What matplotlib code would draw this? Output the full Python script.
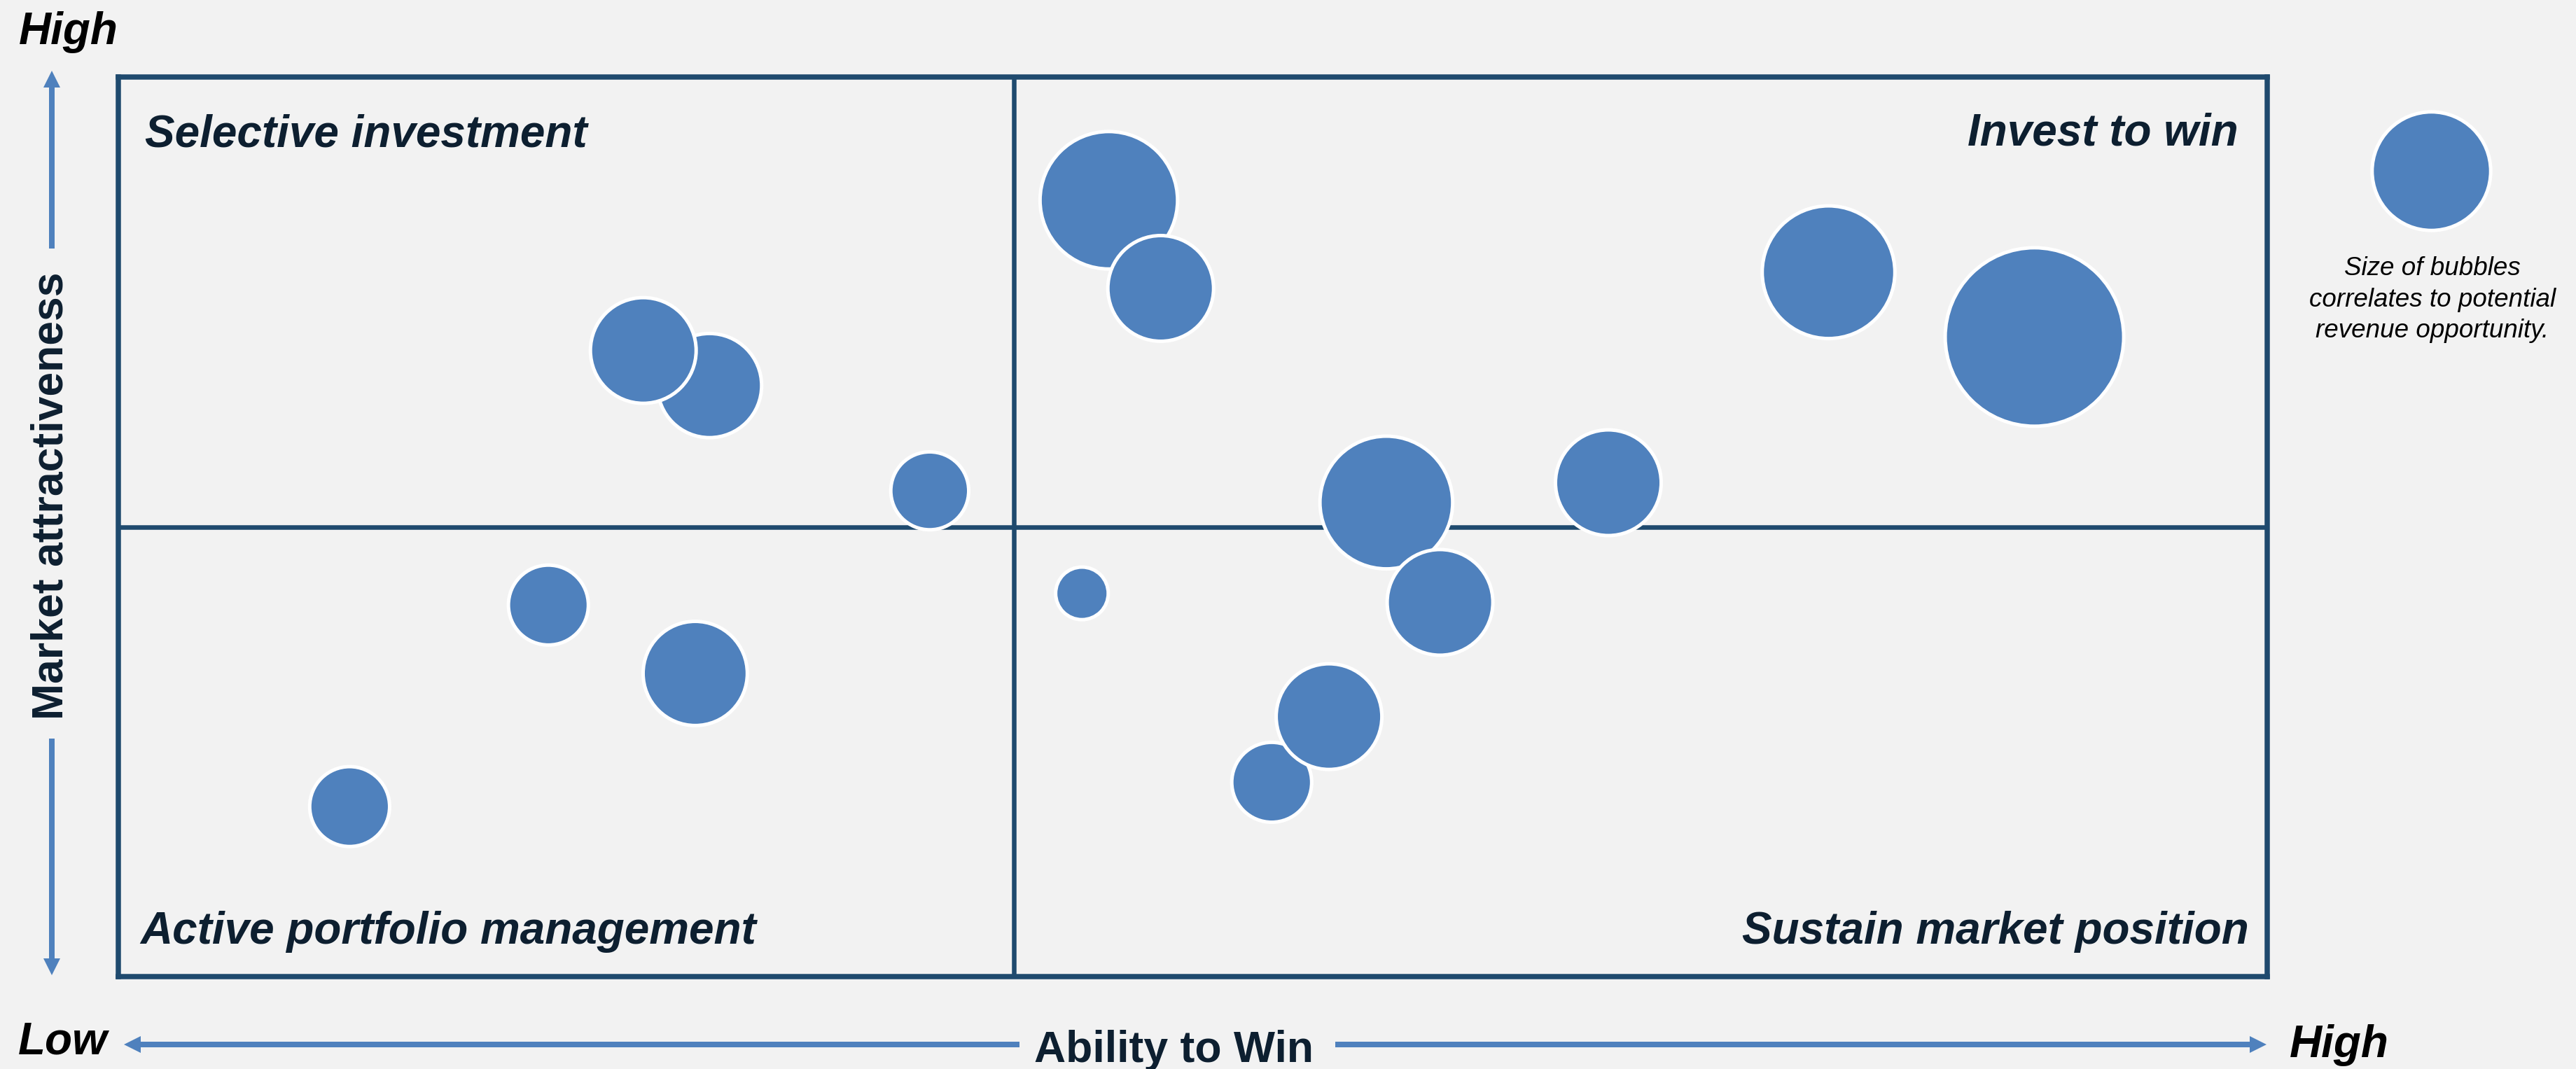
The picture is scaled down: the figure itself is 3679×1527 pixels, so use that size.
import matplotlib.pyplot as plt
import numpy as np

plt.rcParams["font.family"] = ["Liberation Sans", "DejaVu Sans"]

# ability to win (0-12, split at 5), market attractiveness (0-10, split at 5)
ability = [3.30, 2.93, 4.53, 2.40, 3.22, 1.29, 5.53, 5.82, 7.08, 7.38, 8.32, 5.38, 6.44, 6.76, 9.55, 10.70]
attractiveness = [6.57, 6.96, 5.40, 4.13, 3.37, 1.89, 8.63, 7.65, 5.27, 4.16, 5.49, 4.26, 2.16, 2.89, 7.83, 7.11]
revenue = [35, 36, 20, 21, 35, 21, 60, 36, 56, 36, 36, 9.5, 21, 36, 56, 100]
legend_revenue = 45

quadrant_labels = ["Selective investment", "Invest to win",
                   "Active portfolio management", "Sustain market position"]
legend_lines = ["Size of bubbles", "correlates to potential", "revenue opportunity."]

W, H = 3680, 1527
BG = "#F2F2F2"
BUBBLE = "#4F81BD"
FRAME = "#1F4A6E"
DARK = "#0D1F30"
EDGE_PX = 5


def bubble_size(v):
    # outer radius in px grows with sqrt(revenue); scatter s is diameter^2 in pt
    r_out = 13 * np.sqrt(np.asarray(v, dtype=float))
    return ((2 * r_out - EDGE_PX) * 0.72) ** 2


fig = plt.figure(figsize=(W / 100, H / 100), dpi=100, facecolor=BG)

# overlay in pixel units for arrows / legend
over = fig.add_axes([0, 0, 1, 1], zorder=0)
over.set_xlim(0, W)
over.set_ylim(H, 0)
over.axis("off")

left, right, top, bottom = 169.5, 3238, 110, 1395
ax = fig.add_axes([left / W, (H - bottom) / H, (right - left) / W, (bottom - top) / H], zorder=1)
ax.set_facecolor(BG)
ax.set_xlim(0, 12)
ax.set_ylim(0, 10)
ax.set_xticks([])
ax.set_yticks([])
for sp in ax.spines.values():
    sp.set_color(FRAME)
    sp.set_linewidth(5.4)
ax.axvline(5, color=FRAME, lw=4.7, zorder=2)
ax.axhline(5, color=FRAME, lw=4.7, zorder=2)

ax.scatter(ability, attractiveness, s=bubble_size(revenue), color=BUBBLE,
           edgecolor="white", linewidth=EDGE_PX * 0.72, zorder=3, clip_on=False)

qkw = dict(fontsize=46, fontweight="bold", fontstyle="italic", color=DARK, va="baseline")
fig.text(207 / W, 1 - 210 / H, quadrant_labels[0], ha="left", **qkw)
fig.text(3197 / W, 1 - 208 / H, quadrant_labels[1], ha="right", **qkw)
fig.text(200 / W, 1 - 1348 / H, quadrant_labels[2], ha="left", **qkw)
fig.text(3212 / W, 1 - 1348 / H, quadrant_labels[3], ha="right", **qkw)

# axis arrows
akw = dict(width=8, head_width=24, head_length=24, length_includes_head=True,
           color=BUBBLE, lw=0)
over.arrow(74, 355, 0, 101 - 355, **akw)
over.arrow(74, 1055, 0, 1393 - 1055, **akw)
over.arrow(1456, 1492, 177 - 1456, 0, **akw)
over.arrow(1907, 1492, 3237 - 1907, 0, **akw)

fig.text(73 / W, 1 - 708 / H, "Market attractiveness", rotation=90, ha="center",
         va="center", fontsize=45, fontweight="bold", color=DARK)
fig.text(1677 / W, 1 - 1517 / H, "Ability to Win", ha="center", va="baseline",
         fontsize=45, fontweight="bold", color=DARK)

hkw = dict(fontsize=46, fontweight="bold", fontstyle="italic", color="black", va="baseline")
fig.text(27 / W, 1 - 63 / H, "High", ha="left", **hkw)
fig.text(26 / W, 1 - 1505 / H, "Low", ha="left", **hkw)
fig.text(3270 / W, 1 - 1510 / H, "High", ha="left", **hkw)

# size legend
over.scatter([3472], [244], s=bubble_size(legend_revenue), color=BUBBLE,
             edgecolor="white", linewidth=EDGE_PX * 0.72, zorder=3)
for i, line in enumerate(legend_lines):
    fig.text(3474 / W, 1 - (393 + 44.5 * i) / H, line, ha="center", va="baseline",
             fontsize=26.5, fontstyle="italic", color="black")

fig.savefig("out.png", dpi=100, facecolor=BG)
